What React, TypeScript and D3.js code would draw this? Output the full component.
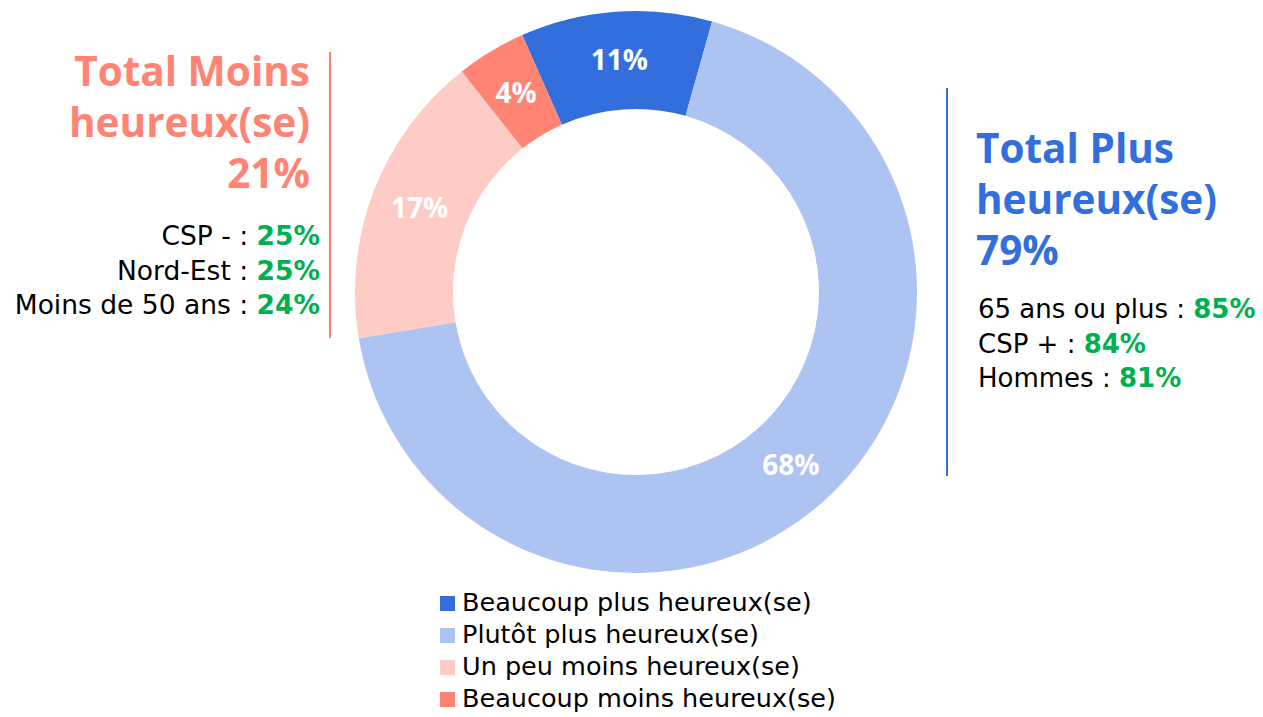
import React from "react";
import * as d3 from "d3";

const categories = [
  "Beaucoup plus heureux(se)",
  "Plutôt plus heureux(se)",
  "Un peu moins heureux(se)",
  "Beaucoup moins heureux(se)",
];
const values = [11, 68, 17, 4];
const colors = ["#326EDC", "#ADC3F1", "#FFCBC5", "#FF8474"];

const leftTitle = ["Total Moins", "heureux(se)", "21%"];
const leftLabels = ["CSP - : ", "Nord-Est : ", "Moins de 50 ans : "];
const leftValues = ["25%", "25%", "24%"];
const rightTitle = ["Total Plus", "heureux(se)", "79%"];
const rightLabels = ["65 ans ou plus : ", "CSP + : ", "Hommes : "];
const rightValues = ["85%", "84%", "81%"];

const FONT = "'Open Sans', sans-serif";
const FONT2 = "'DejaVu Sans', sans-serif";
const GREEN = "#00B050";
const BLUE = "#326EDC";
const SALMON = "#FF8474";

export default function App() {
  const W = 1263, H = 717;
  const cx = 636, cy = 292, rOut = 281, rIn = 183;
  const start = -0.417;
  const pie = d3.pie<number>().sort(null).startAngle(start).endAngle(start + 2 * Math.PI);
  const arcs = pie(values);
  const arc = d3.arc<d3.PieArcDatum<number>>().innerRadius(rIn).outerRadius(rOut);

  return (
    <svg width={W} height={H} style={{ position: "absolute", left: 0, top: 0, fontFamily: FONT }}>
      <g transform={`translate(${cx},${cy})`}>
        {arcs.map((a, i) => (
          <path key={i} d={arc(a) || ""} fill={colors[i]} stroke="none" />
        ))}
        {arcs.map((a, i) => {
          const [x, y] = arc.centroid(a);
          return (
            <text key={"l" + i} x={x} y={y} dy="0.35em" textAnchor="middle" fill="#fff"
              fontSize={28} fontWeight="bold">{values[i]}%</text>
          );
        })}
      </g>

      {/* left block */}
      <line x1={330} x2={330} y1={52} y2={338} stroke={SALMON} strokeWidth={2} />
      {leftTitle.map((t, i) => (
        <text key={"lt" + i} x={310} y={86 + i * 51} textAnchor="end" fill={SALMON}
          fontSize={40.5} fontWeight="bold">{t}</text>
      ))}
      {leftLabels.map((t, i) => (
        <text key={"ll" + i} x={320} y={245 + i * 34.5} textAnchor="end" fontSize={26.5} fill="#000"
          fontFamily={FONT2}>
          {t}<tspan fill={GREEN} fontWeight="bold">{leftValues[i]}</tspan>
        </text>
      ))}

      {/* right block */}
      <line x1={947} x2={947} y1={88} y2={476} stroke={BLUE} strokeWidth={2} />
      {rightTitle.map((t, i) => (
        <text key={"rt" + i} x={976} y={163 + i * 51} textAnchor="start" fill={BLUE}
          fontSize={40.5} fontWeight="bold">{t}</text>
      ))}
      {rightLabels.map((t, i) => (
        <text key={"rl" + i} x={978} y={318 + i * 34.5} textAnchor="start" fontSize={26} fill="#000"
          fontFamily={FONT2}>
          {t}<tspan fill={GREEN} fontWeight="bold">{rightValues[i]}</tspan>
        </text>
      ))}

      {/* legend */}
      {categories.map((c, i) => (
        <g key={"lg" + i} transform={`translate(440,${596 + i * 32})`}>
          <rect x={0} y={0} width={15} height={15} fill={colors[i]} />
          <text x={22} y={15} fontSize={25.5} fill="#000" fontFamily={FONT2}>{c}</text>
        </g>
      ))}
    </svg>
  );
}
